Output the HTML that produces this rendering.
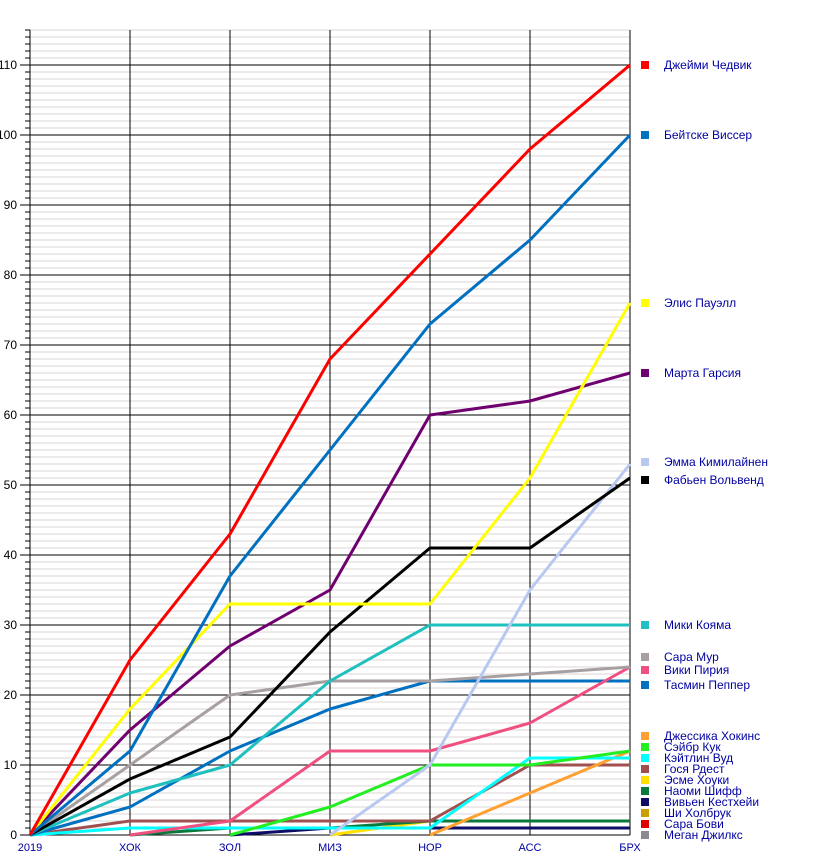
<!DOCTYPE html><html><head><meta charset="utf-8"><style>body{margin:0;background:#fff}svg{display:block;font-family:"Liberation Sans",sans-serif}</style></head><body>
<svg width="830" height="865" xmlns="http://www.w3.org/2000/svg">
<g id="grid"></g>
<script>
const s='http://www.w3.org/2000/svg',g=document.getElementById('grid');
function el(t,a,p){const e=document.createElementNS(s,t);for(const k in a)e.setAttribute(k,a[k]);(p||g).appendChild(e);return e;}
for(let v=1;v<=115;v++){const y=835-7*v;if(v%10)el('line',{x1:30,x2:630,y1:y,y2:y,stroke:'#d8d4d4','stroke-width':1});el('line',{x1:25,x2:30,y1:y,y2:y,stroke:'#000','stroke-width':1});}
for(let v=10;v<=110;v+=10){const y=835-7*v;el('line',{x1:20,x2:630,y1:y,y2:y,stroke:'#000','stroke-width':1});const t=el('text',{x:17,y:y+4,'font-size':12,'text-anchor':'end'});t.textContent=v;}
{const t=el('text',{x:17,y:839,'font-size':12,'text-anchor':'end'});t.textContent='0';}
for(let i=1;i<=6;i++)el('line',{x1:30+100*i,x2:30+100*i,y1:30,y2:835,stroke:'#000','stroke-width':1});
el('line',{x1:30,x2:30,y1:30,y2:835,stroke:'#000','stroke-width':1});
el('line',{x1:20,x2:630,y1:835,y2:835,stroke:'#000','stroke-width':1});
['2019','ХОК','ЗОЛ','МИЗ','НОР','АСС','БРХ'].forEach((l,i)=>{const t=el('text',{x:30+100*i,y:851,'font-size':11,'text-anchor':'middle',fill:'#0000a0'});t.textContent=l;});
const S=[
['#ffe000',3,[null,null,null,0,2,null,null]],
['#0d0d66',3,[null,null,0,1,1,1,1]],
['#0a7a3c',3,[null,0,1,1,2,2,2]],
['#a05050',3,[0,2,2,2,2,10,10]],
['#ffa030',3,[null,null,null,null,0,6,12]],
['#00ffff',3,[0,1,1,1,1,11,11]],
['#22ee22',3,[null,null,0,4,10,10,12]],
['#0070c0',3,[0,4,12,18,22,22,22]],
['#f05080',3,[null,0,2,12,12,16,24]],
['#a8a0a0',3,[0,10,20,22,22,23,24]],
['#20c0c0',3,[0,6,10,22,30,30,30]],
['#b8c8f0',3,[null,null,null,0,10,35,53]],
['#000000',3,[0,8,14,29,41,41,51]],
['#700070',3,[0,15,27,35,60,62,66]],
['#ffff00',3,[0,18,33,33,33,51,76]],
['#0070c0',3,[0,12,37,55,73,85,100]],
['#ff0000',3,[0,25,43,68,83,98,110]]];
S.forEach(([c,w,d])=>{const p=[];d.forEach((v,i)=>{if(v!==null)p.push((30+100*i)+','+(835-7*v));});el('polyline',{points:p.join(' '),fill:'none',stroke:c,'stroke-width':w,'stroke-linejoin':'round'});});
const L=[['#ff0000','Джейми Чедвик',65],['#0070c0','Бейтске Виссер',135],['#ffff00','Элис Пауэлл',303],['#700070','Марта Гарсия',373],['#b8c8f0','Эмма Кимилайнен',462],['#000000','Фабьен Вольвенд',480],['#20c0c0','Мики Кояма',625],['#a8a0a0','Сара Мур',657],['#f05080','Вики Пирия',670],['#0070c0','Тасмин Пеппер',685],
['#ffa030','Джессика Хокинс',736],['#22ee22','Сэйбр Кук',747],['#00ffff','Кэйтлин Вуд',758],['#a05050','Гося Рдест',769],['#ffe000','Эсме Хоуки',780],['#0a7a3c','Наоми Шифф',791],['#0d0d66','Вивьен Кестхейи',802],['#c8a000','Ши Холбрук',813],['#dd0000','Сара Бови',824],['#8a8a90','Меган Джилкс',835]];
L.forEach(([c,n,y])=>{el('rect',{x:641,y:y-4,width:8,height:8,fill:c});const t=el('text',{x:664,y:y+4,'font-size':12,fill:'#0000a0'});t.textContent=n;});
</script>
</svg></body></html>
